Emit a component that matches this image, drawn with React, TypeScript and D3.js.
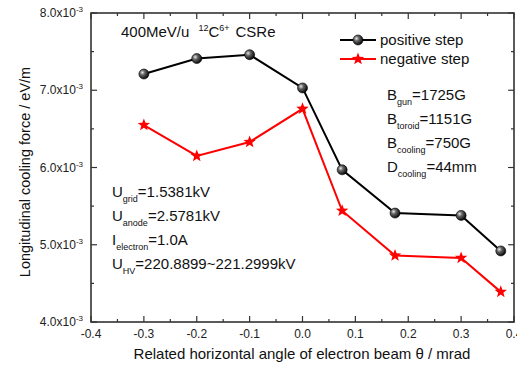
import * as d3 from "d3";

const angles = [-0.3, -0.2, -0.1, 0.0, 0.075, 0.175, 0.3, 0.375];
const positiveStep = [7.21, 7.41, 7.46, 7.03, 5.97, 5.41, 5.38, 4.92];
const negativeStep = [6.55, 6.15, 6.33, 6.76, 5.44, 4.86, 4.83, 4.39];
const xTicks = [-0.4, -0.3, -0.2, -0.1, 0.0, 0.1, 0.2, 0.3, 0.4];
const yTicks = [4.0, 5.0, 6.0, 7.0, 8.0];
const bLines = [
  ["B", "gun", "=1725G"],
  ["B", "toroid", "=1151G"],
  ["B", "cooling", "=750G"],
  ["D", "cooling", "=44mm"],
];
const uLines = [
  ["U", "grid", "=1.5381kV"],
  ["U", "anode", "=2.5781kV"],
  ["I", "electron", "=1.0A"],
  ["U", "HV", "=220.8899~221.2999kV"],
];

const W = 517, H = 369;
const m = { left: 91, right: 3, top: 13, bottom: 47 };
const font = "'Liberation Sans', Arial, sans-serif";
const axisCol = "#333";
const fs = 15;

// star path centered at 0,0
function starPath(R: number) {
  const r = R * 0.42;
  const pts: string[] = [];
  for (let i = 0; i < 10; i++) {
    const a = -Math.PI / 2 + (i * Math.PI) / 5;
    const rr = i % 2 === 0 ? R : r;
    pts.push(`${(rr * Math.cos(a)).toFixed(2)},${(rr * Math.sin(a)).toFixed(2)}`);
  }
  return "M" + pts.join("L") + "Z";
}

function SubText({ x, y, parts }: { x: number; y: number; parts: string[] }) {
  return (
    <text x={x} y={y} fontSize={fs} fontFamily={font} fill="#111">
      {parts[0]}
      <tspan fontSize={9} dy={5}>{parts[1]}</tspan>
      <tspan dy={-5}>{parts[2]}</tspan>
    </text>
  );
}

export default function App() {
  const x = d3.scaleLinear().domain([-0.4, 0.4]).range([m.left, W - m.right]);
  const y = d3.scaleLinear().domain([4.0, 8.0]).range([H - m.bottom, m.top]);
  const x0 = x.range()[0], x1 = x.range()[1], y0 = y.range()[0], y1 = y.range()[1];
  const xMinor = d3.range(-0.35, 0.4, 0.1);
  const yMinor = d3.range(4.5, 8, 1);

  const line = d3.line<number>().x((_, i) => x(angles[i])).y((d) => y(d));
  const star = starPath(6.5);

  return (
    <svg width={W} height={H} style={{ position: "absolute", left: 0, top: 0, background: "#fff" }}>
      <defs>
        <radialGradient id="ball" cx="0.35" cy="0.35" r="0.7">
          <stop offset="0" stopColor="#e8e8e8" />
          <stop offset="0.35" stopColor="#666" />
          <stop offset="1" stopColor="#000" />
        </radialGradient>
      </defs>

      {/* frame */}
      <rect x={x0} y={y1} width={x1 - x0} height={y0 - y1} fill="none" stroke={axisCol} strokeWidth={1.6} />

      {/* x ticks bottom & top */}
      {xTicks.map((t) => (
        <g key={`xt${t}`}>
          <line x1={x(t)} x2={x(t)} y1={y0} y2={y0 - 6} stroke={axisCol} strokeWidth={1.2} />
          <line x1={x(t)} x2={x(t)} y1={y1} y2={y1 + 6} stroke={axisCol} strokeWidth={1.2} />
          <text x={x(t)} y={y0 + 16} textAnchor="middle" fontSize={12} fontFamily={font} fill="#222">
            {t.toFixed(1)}
          </text>
        </g>
      ))}
      {xMinor.map((t) => (
        <g key={`xm${t}`}>
          <line x1={x(t)} x2={x(t)} y1={y0} y2={y0 - 3} stroke={axisCol} strokeWidth={1.2} />
          <line x1={x(t)} x2={x(t)} y1={y1} y2={y1 + 3} stroke={axisCol} strokeWidth={1.2} />
        </g>
      ))}

      {/* y ticks left & right */}
      {yTicks.map((t) => (
        <g key={`yt${t}`}>
          <line x1={x0} x2={x0 + 6} y1={y(t)} y2={y(t)} stroke={axisCol} strokeWidth={1.2} />
          <line x1={x1} x2={x1 - 6} y1={y(t)} y2={y(t)} stroke={axisCol} strokeWidth={1.2} />
          <text x={x0 - 8} y={y(t) + 4} textAnchor="end" fontSize={12} fontFamily={font} fill="#222">
            {t.toFixed(1)}x10
            <tspan fontSize={8} dy={-5}>-3</tspan>
          </text>
        </g>
      ))}
      {yMinor.map((t) => (
        <g key={`ym${t}`}>
          <line x1={x0} x2={x0 + 3} y1={y(t)} y2={y(t)} stroke={axisCol} strokeWidth={1.2} />
          <line x1={x1} x2={x1 - 3} y1={y(t)} y2={y(t)} stroke={axisCol} strokeWidth={1.2} />
        </g>
      ))}

      {/* axis labels */}
      <text x={302} y={359} textAnchor="middle" fontSize={fs} fontFamily={font} fill="#111">
        Related horizontal angle of electron beam θ / mrad
      </text>
      <text transform="translate(30,172) rotate(-90)" textAnchor="middle" fontSize={14.5} fontFamily={font} fill="#111">
        Longitudinal cooling force / eV/m
      </text>

      {/* series */}
      <path d={line(positiveStep) ?? ""} fill="none" stroke="#000" strokeWidth={2} />
      <path d={line(negativeStep) ?? ""} fill="none" stroke="#ff0000" strokeWidth={2} />
      {positiveStep.map((v, i) => (
        <circle key={`p${i}`} cx={x(angles[i])} cy={y(v)} r={5} fill="url(#ball)" stroke="#000" strokeWidth={0.6} />
      ))}
      {negativeStep.map((v, i) => (
        <path key={`n${i}`} d={star} transform={`translate(${x(angles[i])},${y(v)})`} fill="#ff0000" />
      ))}

      {/* title annotation */}
      <text x={121} y={37} fontSize={fs} fontFamily={font} fill="#111">
        400MeV/u
        <tspan dx={9} fontSize={9} dy={-6}>12</tspan>
        <tspan dy={6}>C</tspan>
        <tspan fontSize={9} dy={-6}>6+</tspan>
        <tspan dx={6} dy={6}>CSRe</tspan>
      </text>

      {/* legend */}
      <line x1={340} x2={376} y1={40} y2={40} stroke="#000" strokeWidth={2} />
      <circle cx={358} cy={40} r={5} fill="url(#ball)" stroke="#000" strokeWidth={0.6} />
      <text x={380} y={45} fontSize={fs} fontFamily={font} fill="#111">positive step</text>
      <line x1={340} x2={376} y1={59} y2={59} stroke="#ff0000" strokeWidth={2} />
      <path d={star} transform="translate(358,59)" fill="#ff0000" />
      <text x={380} y={64} fontSize={fs} fontFamily={font} fill="#111">negative step</text>

      {bLines.map((p, i) => (
        <SubText key={`b${i}`} x={387} y={100 + i * 24} parts={p} />
      ))}
      {uLines.map((p, i) => (
        <SubText key={`u${i}`} x={112} y={197 + i * 24} parts={p} />
      ))}
    </svg>
  );
}
